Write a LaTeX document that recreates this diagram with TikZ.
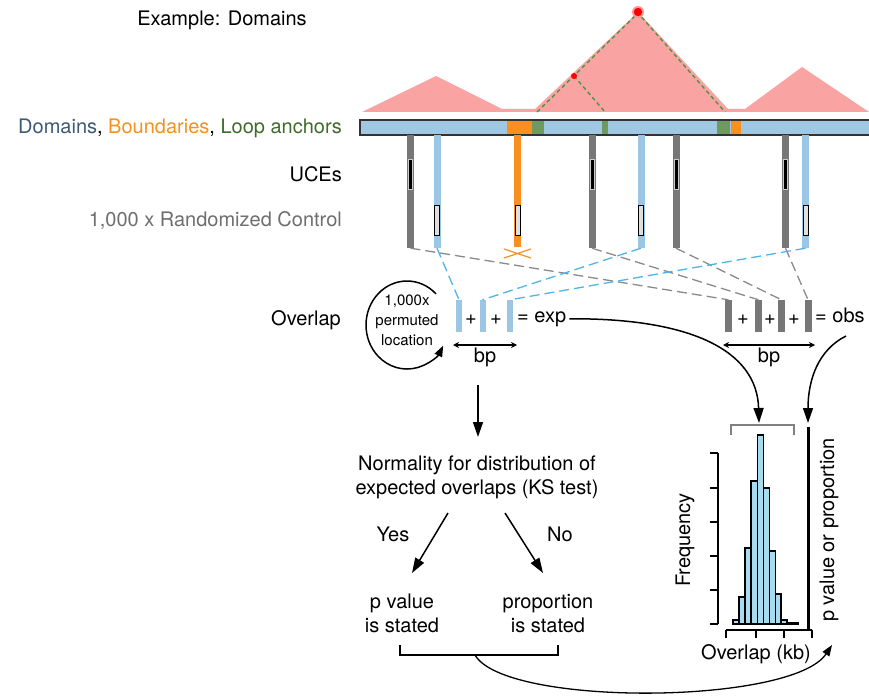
\documentclass[tikz,border=0pt]{standalone}
\usepackage{fontspec}
\setmainfont{TeX Gyre Heros}
\usetikzlibrary{arrows.meta}
\definecolor{trired}{HTML}{F9A3A3}
\definecolor{barblue}{HTML}{A0C8E2}
\definecolor{bndorange}{HTML}{F7901E}
\definecolor{loopgreen}{HTML}{6E9A62}
\definecolor{dashgreen}{HTML}{4F9445}
\definecolor{ugray}{HTML}{777777}
\definecolor{ublue}{HTML}{9CC7E4}
\definecolor{dashblue}{HTML}{4CB6EA}
\definecolor{dashgray}{HTML}{8A8A8A}
\definecolor{domtext}{HTML}{3D5A73}
\definecolor{looptext}{HTML}{3E6B2A}
\definecolor{histblue}{HTML}{A8DAF0}
\definecolor{ctltext}{HTML}{6E6E6E}
\begin{document}
\begin{tikzpicture}[x=1pt,y=-1pt,
  font=\fontsize{20}{24}\selectfont,
  txt/.style={inner sep=0pt},
  vline/.style={inner sep=0pt, minimum width=7pt, minimum height=113pt, draw=none},
  ucebox/.style={inner sep=0pt, minimum width=4pt, minimum height=30pt, fill=black, draw=gray!40, line width=0.4pt},
  ctlbox/.style={inner sep=0pt, minimum width=5pt, minimum height=30pt, fill=gray!25, draw=black, line width=0.8pt},
  ebar/.style={inner sep=0pt, minimum width=6pt, minimum height=32pt, fill=ublue, draw=none},
  obar/.style={inner sep=0pt, minimum width=7pt, minimum height=32pt, fill=ugray, draw=none},
  gdash/.style={dashgray, line width=1.3pt, dash pattern=on 10pt off 5pt},
  bdash/.style={dashblue, line width=1.3pt, dash pattern=on 10pt off 5pt},
  arr/.style={line width=1.5pt, -{Triangle[length=15pt,width=10pt]}},
  sarr/.style={line width=1.3pt, -{Triangle[length=11pt,width=8pt]}},
  bparr/.style={line width=1.3pt, {Stealth[length=6pt,width=6pt]}-{Stealth[length=6pt,width=6pt]}},
  hbar/.style={fill=histblue, draw=black, line width=1.2pt}
]
\useasboundingbox (0,0) rectangle (869,698);

% ---------- domain profile ----------
\fill[trired] (362,112) -- (436,76) -- (502,109) -- (535,109) -- (638,12) -- (728,109)
  -- (745,109) -- (802,67) -- (869,112) -- cycle;
\draw[dashgreen, line width=1.4pt, dash pattern=on 4pt off 3pt] (537,112) -- (638,13) -- (725,112);
\draw[dashgreen, line width=1.4pt, dash pattern=on 4pt off 3pt] (574,76) -- (605,112);
\fill[red!40] (638,12) circle[radius=6];
\fill[red] (638,12) circle[radius=4.2];
\fill[red] (574,76) circle[radius=3];

% ---------- chromosome bar ----------
\fill[barblue] (360,120) rectangle (869,135);
\fill[bndorange] (507,120.5) rectangle (532,134.5);
\fill[loopgreen] (532,120.5) rectangle (544,134.5);
\fill[loopgreen] (602,120.5) rectangle (608,134.5);
\fill[loopgreen] (717,120.5) rectangle (730,134.5);
\fill[bndorange] (731,120.5) rectangle (741,134.5);
\draw[black!80, line width=1.2pt] (869,120) -- (360,120) -- (360,135) -- (869,135);

% ---------- left labels ----------
\node[txt, anchor=base] (title) at (222,26) {Example: Domains};
\node[txt, anchor=base east] (legend) at (342,133)
  {\textcolor{domtext}{Domains}, \textcolor{bndorange}{Boundaries}, \textcolor{looptext}{Loop anchors}};
\node[txt, anchor=base east] (uces) at (342,181) {UCEs};
\node[txt, anchor=base east, text=ctltext] (ctl) at (342,226) {1,000 x Randomized Control};
\node[txt, anchor=base west] (overlap) at (271,325) {Overlap};

% ---------- vertical UCE / control lines ----------
\node[vline, fill=ugray] (g1) at (410.5,191.5) {};
\node[vline, fill=ugray] (g2) at (592,191.5) {};
\node[vline, fill=ugray] (g3) at (676,191.5) {};
\node[vline, fill=ugray] (g4) at (785.5,191.5) {};
\node[vline, fill=ublue] (b1) at (437,191.5) {};
\node[vline, fill=ublue] (b2) at (641,191.5) {};
\node[vline, fill=ublue] (b3) at (805.5,191.5) {};
\node[vline, fill=bndorange, minimum height=112pt] (o1) at (517.5,191) {};
\foreach \xx in {410.5,592,676,785.5} \node[ucebox] at (\xx,174) {};
\foreach \xx in {437,517.5,641,805.5} \node[ctlbox] at (\xx,220) {};
\draw[bndorange, line width=1.2pt] (504,249) -- (531,258) (504,258) -- (531,249);

% ---------- overlap bars ----------
\node[ebar] (eb1) at (459,316) {};
\node[ebar] (eb2) at (482.5,316) {};
\node[ebar] (eb3) at (510,316) {};
\node[obar] (ob1) at (728.5,316) {};
\node[obar] (ob2) at (758.5,316) {};
\node[obar] (ob3) at (781.5,316) {};
\node[obar] (ob4) at (808,316) {};

\draw[gdash] (g1.south) -- (ob1.north);
\draw[gdash] (g2.south) -- (ob2.north);
\draw[gdash] (g3.south) -- (ob3.north);
\draw[gdash] (g4.south) -- (ob4.north);
\draw[bdash] (b1.south) -- (eb1.north);
\draw[bdash] (b2.south) -- (eb2.north);
\draw[bdash] (b3.south) -- (eb3.north);

\node[txt, anchor=base] (p1) at (471,324) {+};
\node[txt, anchor=base] (p2) at (496,324) {+};
\node[txt, anchor=base west] (exp) at (517,322) {= exp};
\node[txt, anchor=base] (p3) at (743,324) {+};
\node[txt, anchor=base] (p4) at (770,324) {+};
\node[txt, anchor=base] (p5) at (794,324) {+};
\node[txt, anchor=base west] (obs) at (815,322) {= obs};

\coordinate (bpa1) at (453,345); \coordinate (bpa2) at (517,345);
\coordinate (bpb1) at (723,345); \coordinate (bpb2) at (815,345);
\draw[bparr] (bpa1) -- (bpa2);
\draw[bparr] (bpb1) -- (bpb2);
\node[txt, anchor=base] (bpl) at (485,362) {bp};
\node[txt, anchor=base] (bpr) at (769,362) {bp};

% ---------- permutation loop ----------
\node[txt, align=center, font=\fontsize{15}{20}\selectfont] (perm) at (407,320) {1,000x\\permuted\\location};
\draw[line width=1.5pt, -{Triangle[length=11pt,width=8pt]}] (436,293.9) arc[start angle=-45, end angle=-332, x radius=41, y radius=44];

% ---------- flow ----------
\coordinate (dtop) at (478,385);
\coordinate (dtip) at (478,437);
\node[txt, align=center, anchor=base] (norm) at (477,494) {Normality for distribution of\\expected overlaps (KS test)};
\draw[arr] (dtop) -- (dtip);
\coordinate (ys) at (448,513); \coordinate (ns) at (505,513);
\node[txt, align=center, anchor=base] (pval) at (402,632) {p value\\is stated};
\node[txt, align=center, anchor=base] (prop) at (548,632) {proportion\\is stated};
\draw[arr] (ys) -- (412,573);
\draw[arr] (ns) -- (543,573);
\node[txt, anchor=base] (yes) at (393,541) {Yes};
\node[txt, anchor=base] (no) at (560,541) {No};
\draw[line width=1.5pt] (400,645) -- (400,655) -- (558,655) -- (558,645);
\coordinate (brc) at (475,655);
\coordinate (resend) at (832,645);
\draw[sarr] (brc) .. controls (505,707) and (792,705) .. (resend);

% ---------- histogram ----------
\draw[gray, line width=2pt] (731,435) -- (731,425) -- (794,425) -- (794,435);
\coordinate (exptip) at (759,423);
\coordinate (obstip) at (808,423);
\draw[arr] ([xshift=3pt]exp.east) .. controls (690,318) and (757,350) .. (exptip);
\coordinate (obsst) at (846,336);
\draw[arr] (obsst) .. controls (818,350) and (808,380) .. (obstip);
\draw[line width=3pt] (808,427) -- (808,630);

\draw[line width=1.5pt] (718,453) -- (718,624);
\foreach \yy in {453,488,522,556,590,624} \draw[line width=1.5pt] (710,\yy) -- (718,\yy);
\draw[line width=1.5pt] (726,630) -- (812,630);
\foreach \xx in {726,756,784,812} \draw[line width=1.5pt] (\xx,630) -- (\xx,638);

\draw[hbar] (733,624) rectangle (739,620);
\draw[hbar] (739,624) rectangle (745,597);
\draw[hbar] (745,624) rectangle (751,548);
\draw[hbar] (751,624) rectangle (757.5,481);
\draw[hbar] (757.5,624) rectangle (763.5,435);
\draw[hbar] (763.5,624) rectangle (769.5,488);
\draw[hbar] (769.5,624) rectangle (775.5,551);
\draw[hbar] (775.5,624) rectangle (781,594);
\draw[hbar] (781,624) rectangle (787,620);
\draw[hbar] (787,624) rectangle (798,622.5);

\node[txt, anchor=base, rotate=90] (freq) at (690,540) {Frequency};
\node[txt, anchor=base, rotate=90] (pvp) at (834,530) {p value or proportion};
\node[txt, anchor=base] (olkb) at (756,659) {Overlap (kb)};
\end{tikzpicture}
\end{document}
